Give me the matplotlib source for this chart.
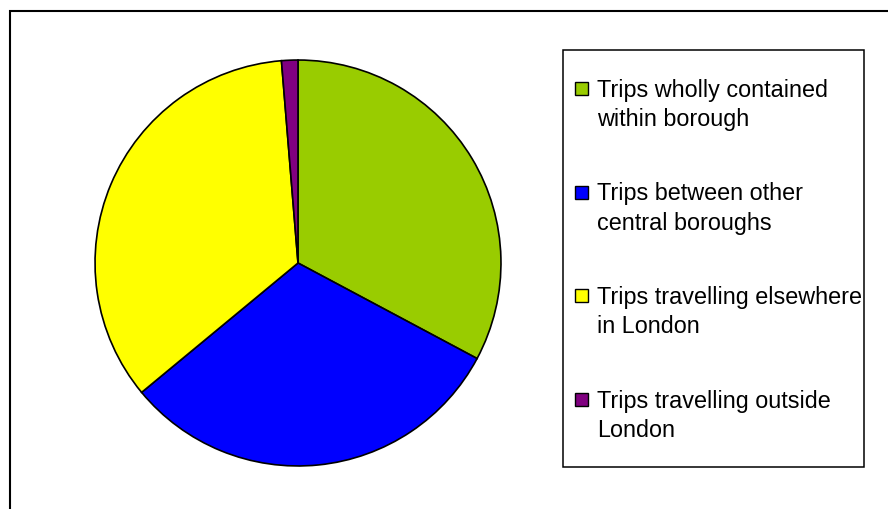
import matplotlib
matplotlib.use("Agg")
import matplotlib.pyplot as plt
from matplotlib.patches import Rectangle

labels = [
    "Trips wholly contained\nwithin borough",
    "Trips between other\ncentral boroughs",
    "Trips travelling elsewhere\nin London",
    "Trips travelling outside\nLondon",
]
shares = [32.8, 31.2, 34.7, 1.3]
colors = ["#99CC00", "#0000FF", "#FFFF00", "#800080"]

plt.rcParams["font.family"] = ["Liberation Sans", "DejaVu Sans"]

W, H = 888, 509
fig = plt.figure(figsize=(W / 100, H / 100), dpi=100, facecolor="white")


def fx(px):
    return px / W


def fy(py):
    return 1 - py / H


# outer chart frame (runs off the right and bottom edges)
fig.add_artist(Rectangle((fx(9.5), -0.1), 1.0, 1.1 - 11 / H, transform=fig.transFigure,
                         fill=False, edgecolor="black", linewidth=1.5))

cx, cy, r = 298, 263, 205
ax = fig.add_axes([fx(cx - r), fy(cy + r), 2 * r / W, 2 * r / H])
wedges, _ = ax.pie(shares, colors=colors, startangle=90, counterclock=False,
                   wedgeprops=dict(edgecolor="black", linewidth=1.2))
ax.set_xlim(-1.01, 1.01)
ax.set_ylim(-1.01, 1.01)
ax.set_aspect("equal")
ax.axis("off")

# legend box drawn by hand to match the original spacing
fig.add_artist(Rectangle((fx(563), fy(467)), (864 - 563) / W, (467 - 50) / H,
                         transform=fig.transFigure, fill=False,
                         edgecolor="black", linewidth=1.1))
for i, (lab, col) in enumerate(zip(labels, colors)):
    base = 96 + i * 103.7
    fig.add_artist(Rectangle((fx(574.5), fy(base - 1)), 13 / W, 13 / H,
                             transform=fig.transFigure, facecolor=col,
                             edgecolor="black", linewidth=1.0))
    # va="baseline" anchors the last line of a two-line label
    fig.text(fx(597), fy(base + 30), lab, fontsize=16.8, va="baseline", ha="left",
             linespacing=1.36, color="black")

fig.savefig("out.png", dpi=100, facecolor="white")
